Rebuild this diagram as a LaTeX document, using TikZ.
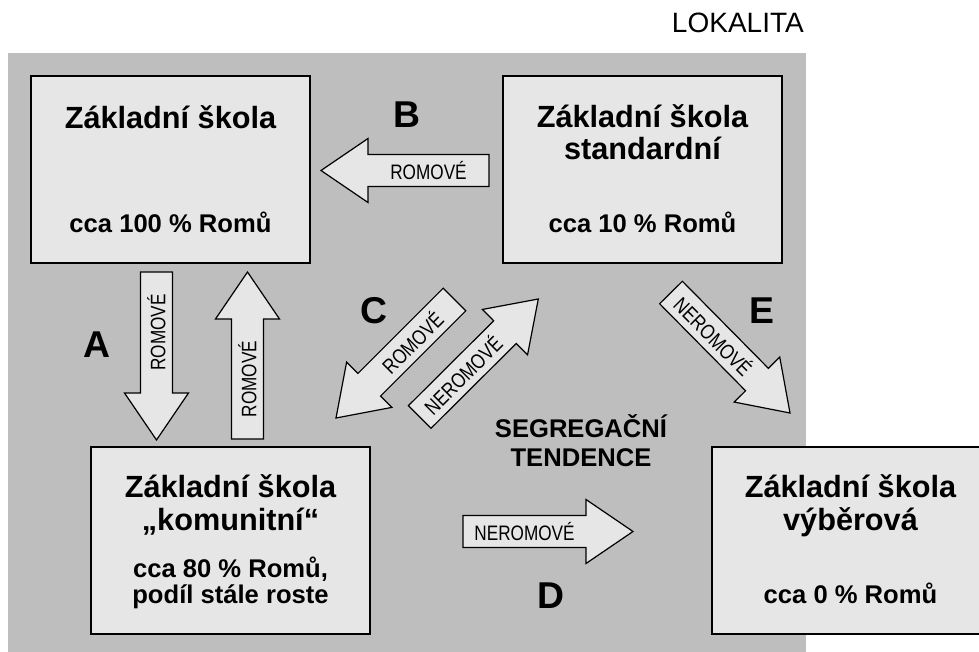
\documentclass[tikz,border=0pt]{standalone}
\usepackage{fontspec}
\setmainfont{Liberation Sans}
\newfontfamily\narrowfont[FakeStretch=0.82]{Liberation Sans}
\usetikzlibrary{calc}
\definecolor{bggray}{RGB}{190,190,190}
\definecolor{boxfill}{RGB}{230,230,230}
\tikzset{
 schoolbox/.style={draw=black, line width=1pt, fill=boxfill, inner sep=0pt,
   minimum width=209.25pt, minimum height=140.25pt},
 arrowshape/.style={draw=black, line width=0.9pt, fill=boxfill, line join=miter},
 title/.style={font=\bfseries\fontsize{23}{23}\selectfont, anchor=base, inner sep=0pt},
 subt/.style={font=\bfseries\fontsize{19.2}{19.2}\selectfont, anchor=base, inner sep=0pt},
 letter/.style={font=\bfseries\fontsize{28}{28}\selectfont, inner sep=0pt},
 alabel/.style={font=\narrowfont\fontsize{15.7}{15.7}\selectfont, inner sep=0pt},
}
\newcommand{\blockarrow}[5]{%
 \coordinate (#1t) at (#2);
 \coordinate (#1h) at (#3);
 \coordinate (#1b) at ($(#1h)!35.25pt!(#1t)$);
 \draw[arrowshape] ($(#1t)!12pt!90:(#1h)$) -- ($(#1b)!12pt!90:(#1h)$)
   -- ($(#1b)!24pt!90:(#1h)$) -- (#1h) -- ($(#1b)!24pt!-90:(#1h)$)
   -- ($(#1b)!12pt!-90:(#1h)$) -- ($(#1t)!12pt!-90:(#1h)$) -- cycle;
 \node[alabel, rotate=#4] (#1l) at ($(#1t)!0.5!(#1b)$) {#5};
}
\begin{document}
\begin{tikzpicture}[x=0.75pt,y=-0.75pt]
\useasboundingbox (0,0) rectangle (979,652);
\clip (0,0) rectangle (979,652);
% background
\fill[bggray] (8,53) rectangle (806,660);
\node[font=\fontsize{21}{21}\selectfont, anchor=base east, inner sep=0pt] (lok) at (804,33) {LOKALITA};
% schools
\node[schoolbox] (s1) at (170.5,169.5) {};
\node[schoolbox] (s2) at (642.5,169.5) {};
\node[schoolbox] (s3) at (230.5,540.5) {};
\node[schoolbox] (s4) at (851.5,540.5) {};
\node[title] (s1a) at (170.5,129) {Základní škola};
\node[subt] (s1b) at (170.5,233) {cca 100 \% Romů};
\node[title] (s2a) at (642.5,128) {Základní škola};
\node[title] (s2b) at (642.5,160) {standardní};
\node[subt] (s2c) at (642.5,233) {cca 10 \% Romů};
\node[title] (s3a) at (230.5,498) {Základní škola};
\node[title] (s3b) at (230.5,530) {„komunitní“};
\node[subt] (s3c) at (230.5,577) {cca 80 \% Romů,};
\node[subt] (s3d) at (230.5,603) {podíl stále roste};
\node[title] (s4a) at (850.5,498) {Základní škola};
\node[title] (s4b) at (850.5,530) {výběrová};
\node[subt] (s4c) at (850.5,603) {cca 0 \% Romů};
% arrows
\blockarrow{B}{489,170.5}{321,170.5}{0}{ROMOVÉ}
\blockarrow{Ad}{156.5,272}{156.5,440}{90}{ROMOVÉ}
\blockarrow{Au}{247.5,439}{247.5,272}{90}{ROMOVÉ}
\blockarrow{Cr}{454.5,299.5}{336,418}{45}{ROMOVÉ}
\blockarrow{Cn}{419.7,417}{538.3,299}{45}{NEROMOVÉ}
\blockarrow{E}{671,292.5}{790,413}{-45}{NEROMOVÉ}
\blockarrow{D}{463,531.5}{633,531.5}{0}{NEROMOVÉ}
% letters
\node[letter] (LA) at (97,345) {A};
\node[letter] (LB) at (407,115) {B};
\node[letter] (LC) at (373.5,310.5) {C};
\node[letter] (LD) at (551,595.5) {D};
\node[letter] (LE) at (761.5,310.5) {E};
% tendency
\node[subt] (seg1) at (581,438) {SEGREGAČNÍ};
\node[subt] (seg2) at (581,466) {TENDENCE};
\end{tikzpicture}
\end{document}
